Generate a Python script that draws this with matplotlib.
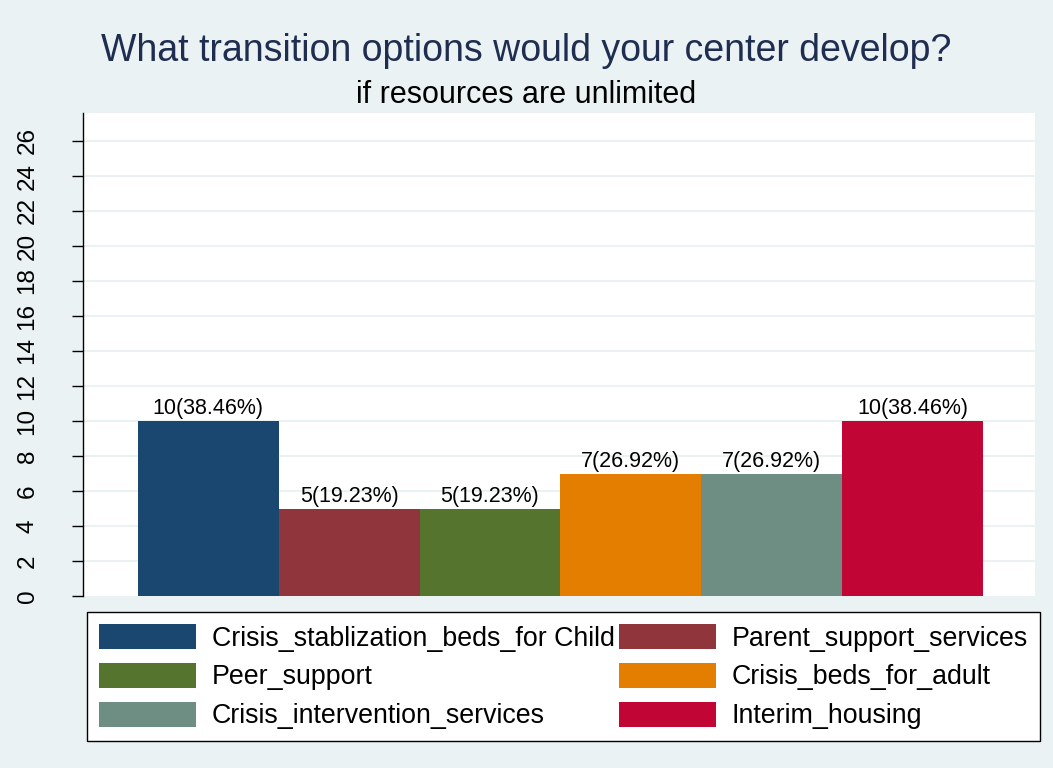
import matplotlib.pyplot as plt

plt.rcParams['font.family'] = ['Liberation Sans', 'DejaVu Sans']

# data
categories = ['Crisis_stablization_beds_for Child', 'Parent_support_services',
              'Peer_support', 'Crisis_beds_for_adult',
              'Crisis_intervention_services', 'Interim_housing']
counts = [10, 5, 5, 7, 7, 10]
percents = [38.46, 19.23, 19.23, 26.92, 26.92, 38.46]
colors = ['#1A476F', '#90353B', '#55752F', '#E37E00', '#6E8E84', '#C10534']
yticks = list(range(0, 27, 2))

bg = '#EAF2F3'
fig = plt.figure(figsize=(10.53, 7.68), dpi=100, facecolor=bg)
ax = fig.add_axes([83/1053, 1-596/768, (1035-83)/1053, (596-113)/768])
ax.set_facecolor('white')

bars = []
for i, (c, v) in enumerate(zip(categories, counts)):
    b = ax.bar(i, v, width=1.0, color=colors[i], label=c, zorder=3)
    bars.append(b)
    ax.text(i, v + 0.1, '%d(%.2f%%)' % (v, percents[i]), ha='center', va='bottom',
            fontsize=15.5, zorder=4)

ax.set_xlim(-0.89, 5.87)
ax.set_ylim(0, 27.6)
ax.set_yticks(yticks)
ax.set_yticklabels([str(t) for t in yticks], rotation=90, va='center', fontsize=17.5)
ax.tick_params(axis='y', length=8, width=1, pad=24)
ax.set_xticks([])
for g in yticks[1:]:
    ax.axhline(g, color=bg, lw=1.5, zorder=1)
for s in ['top', 'right', 'bottom']:
    ax.spines[s].set_visible(False)
ax.spines['left'].set_linewidth(1)

fig.text(0.5, 1-51/768, 'What transition options would your center develop?',
         ha='center', va='center', fontsize=27, color='#1F2D50')
fig.text(0.5, 1-95/768, 'if resources are unlimited', ha='center', va='center',
         fontsize=22, color='black')

# legend ordered row by row as in the original (2 columns)
order = [0, 2, 4, 1, 3, 5]
leg = fig.legend([bars[i] for i in order], [categories[i] for i in order],
                 ncol=2, loc='upper left',
                 bbox_to_anchor=(87/1053, 1-737/768, (1040-87)/1053, 125/768),
                 mode='expand', fontsize=19.3, frameon=True, fancybox=False,
                 edgecolor='black', facecolor='white', framealpha=1,
                 handlelength=3.6, handleheight=1.05,
                 handletextpad=0.6, labelspacing=0.42, borderpad=0.45,
                 columnspacing=0.3, borderaxespad=0)
leg.get_frame().set_linewidth(1)

fig.savefig('out.png', dpi=100, facecolor=bg)
